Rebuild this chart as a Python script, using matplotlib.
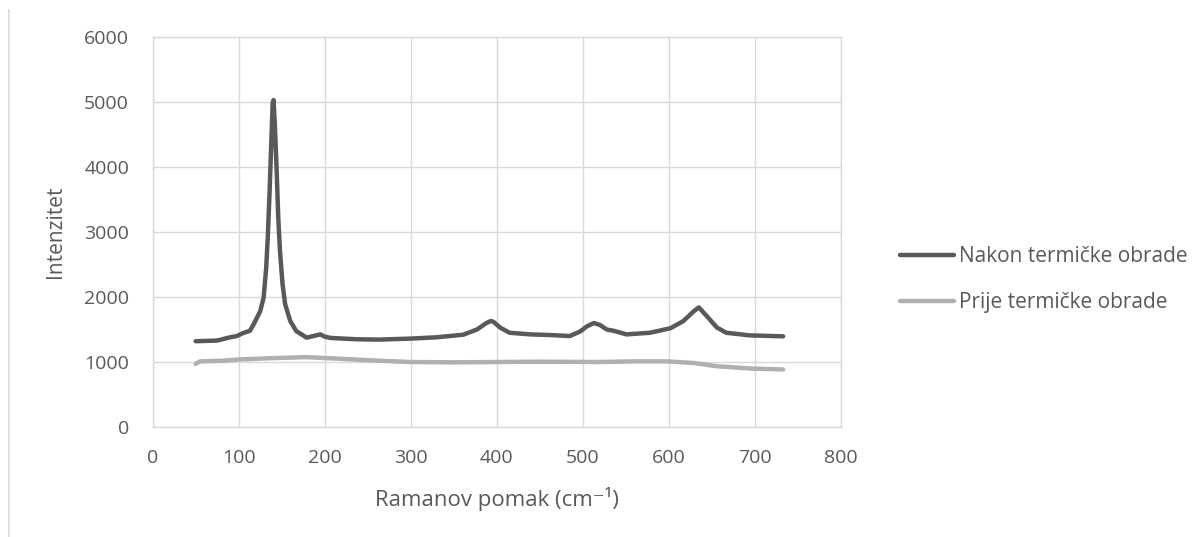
import numpy as np
import matplotlib.pyplot as plt
from matplotlib.lines import Line2D

plt.rcParams['font.family'] = ['Open Sans', 'DejaVu Sans']

# Podaci ocitani sa grafika:
x_nakon = [50, 75, 90, 98, 105, 113, 117, 125, 129, 132, 134, 136, 138, 139.5, 140.5,
           142, 144, 146, 148, 151, 154, 160, 167, 179, 187, 195, 200, 207, 237, 264,
           299, 330, 361, 377, 388, 393, 396, 404, 415, 439, 462, 485, 497, 505, 513,
           520, 528, 536, 551, 578, 602, 617, 629, 635, 644, 656, 667, 694, 733]
y_nakon = [1320, 1330, 1380, 1400, 1445, 1480, 1570, 1780, 1990, 2450, 2970, 3640, 4400, 4980, 5030,
           4670, 4000, 3230, 2710, 2200, 1890, 1630, 1475, 1375, 1400, 1425, 1390, 1370, 1350, 1345,
           1360, 1380, 1420, 1500, 1600, 1630, 1620, 1530, 1450, 1425, 1415, 1400, 1470, 1550, 1600,
           1570, 1500, 1480, 1425, 1450, 1520, 1630, 1780, 1840, 1710, 1530, 1450, 1410, 1395]

x_prije = [50, 55, 82, 101, 140, 179, 218, 264, 300, 350, 400, 450, 520, 559, 598, 629, 656, 695, 733]
y_prije = [970, 1010, 1020, 1040, 1060, 1075, 1050, 1020, 1000, 995, 1000, 1005, 1000, 1010, 1010,
           985, 935, 900, 885]

x_ticks = [0, 100, 200, 300, 400, 500, 600, 700, 800]
y_ticks = [0, 1000, 2000, 3000, 4000, 5000, 6000]

tamna = "#595959"
svijetla = "#b0b0b0"
mreza = "#d9d9d9"

# Kreiranje grafika:
fig = plt.figure(figsize=(12.03, 5.37), dpi=100)
ax = fig.add_axes([0.1269, 0.2048, 0.5720, 0.7263])

ax.plot(x_nakon, y_nakon, color=tamna, linewidth=3.2, label="Nakon termičke obrade",
        solid_capstyle="round", zorder=3)
ax.plot(x_prije, y_prije, color=svijetla, linewidth=3.2, label="Prije termičke obrade",
        solid_capstyle="round", zorder=2)

# Osi i mreza:
ax.set_xlim(0, 800)
ax.set_ylim(0, 6000)
ax.set_xticks(x_ticks)
ax.set_yticks(y_ticks)
ax.grid(True, color=mreza, linewidth=1)
ax.set_axisbelow(True)
for s in ax.spines.values():
    s.set_color(mreza)
    s.set_linewidth(1)
ax.tick_params(length=0, labelsize=14, labelcolor=tamna)
ax.tick_params(axis="y", pad=17)
ax.tick_params(axis="x", pad=16)

ax.set_xlabel("Ramanov pomak (cm⁻¹)", fontsize=16, color=tamna, labelpad=14)
ax.set_ylabel("Intenzitet", fontsize=15, color=tamna, labelpad=13)

# Legenda:
fig.legend(loc="center left", bbox_to_anchor=(0.748, 0.479), frameon=False,
           fontsize=15, labelcolor=tamna, handlelength=2.6, handletextpad=0.25,
           labelspacing=1.2, borderpad=0, borderaxespad=0, handleheight=0.7)

# Linija s lijeve strane:
fig.add_artist(Line2D([9 / 1203, 9 / 1203], [0, 1 - 10 / 537], color=mreza, linewidth=1.2,
                      transform=fig.transFigure))

fig.savefig("out.png", dpi=100)
